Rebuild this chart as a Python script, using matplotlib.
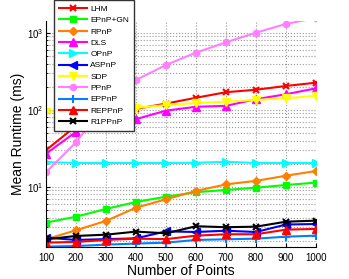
import matplotlib
matplotlib.use("Agg")
import matplotlib.pyplot as plt
from matplotlib.ticker import LogLocator, FixedLocator, NullFormatter

plt.rcParams['font.family'] = ['Liberation Sans', 'DejaVu Sans']
plt.rcParams['mathtext.fontset'] = 'custom'
plt.rcParams['mathtext.rm'] = 'Liberation Sans'

n_points = [100, 200, 300, 400, 500, 600, 700, 800, 900, 1000]

lhm = [30, 62, 82, 103, 121, 144, 170, 183, 205, 226]
epnp_gn = [3.44, 4.11, 5.18, 6.38, 7.48, 8.54, 9.14, 9.79, 10.6, 11.4]
rpnp = [2.09, 2.74, 3.62, 5.38, 6.92, 8.87, 10.8, 12.0, 14.0, 16.1]
dls = [27, 52, 65, 76, 98, 110, 113, 138, 160, 191]
opnp = [21.0, 20.5, 20.5, 20.5, 20.5, 20.6, 21.2, 20.5, 20.5, 20.4]
aspnp = [2.20, 2.05, 2.10, 2.15, 2.65, 2.60, 2.70, 2.60, 3.25, 3.30]
sdp = [95, 97, 100, 106, 116, 123, 128, 135, 142, 152]
ppnp = [15.5, 38, 120, 245, 384, 555, 757, 1009, 1309, 1570]
eppnp = [1.68, 1.71, 1.78, 1.84, 1.89, 2.05, 2.09, 2.13, 2.26, 2.33]
reppnp = [1.89, 1.93, 2.05, 2.13, 2.10, 2.33, 2.43, 2.43, 2.79, 2.85]
r1ppnp = [2.09, 2.31, 2.40, 2.63, 2.50, 3.09, 3.00, 3.05, 3.54, 3.65]

labels = ['LHM', 'EPnP+GN', 'RPnP', 'DLS', 'OPnP', 'ASPnP', 'SDP', 'PPnP',
          'EPPnP', 'REPPnP', 'R1PPnP']
series = [lhm, epnp_gn, rpnp, dls, opnp, aspnp, sdp, ppnp, eppnp, reppnp, r1ppnp]
colors = ['#ff0000', '#00ff00', '#ff8000', '#ff00ff', '#00ffff', '#0000ff',
          '#ffff00', '#ff80ff', '#0080ff', '#ff0000', '#000000']
markers = ['x', 's', 'D', '^', '>', '<', 'v', 'o', '+', '^', 'x']
msizes = [5, 4.5, 4, 6, 6, 6, 6, 4.5, 6, 6, 5]

fig = plt.figure(figsize=(3.49, 2.79), dpi=100)
ax = fig.add_axes([46/349, 1-247/279, 270/349, 226/279])

for y, lab, c, m, ms in zip(series, labels, colors, markers, msizes):
    ax.plot(n_points, y, color=c, marker=m, markersize=ms, linewidth=1.5,
            markeredgewidth=1.5 if m in ('x', '+') else 1.0, label=lab,
            markerfacecolor=c, markeredgecolor=c, clip_on=True)

ax.set_yscale('log')
ax.set_xlim(100, 1000)
ax.set_ylim(1.66, 1430)
ax.set_xticks(n_points)
ax.yaxis.set_major_locator(FixedLocator([10, 100, 1000]))
ax.yaxis.set_minor_locator(LogLocator(base=10, subs=range(2, 10)))
ax.yaxis.set_minor_formatter(NullFormatter())

ax.grid(True, which='major', linestyle=':', color='#999999', linewidth=0.8)
ax.grid(True, which='minor', axis='y', linestyle=':', color='#999999', linewidth=0.8)
ax.set_axisbelow(True)

for s in ['top', 'right']:
    ax.spines[s].set_visible(False)
ax.tick_params(which='both', direction='in', labelsize=7, length=3)
ax.tick_params(which='minor', length=1.5)
ax.tick_params(axis='x', pad=4)
ax.tick_params(axis='y', pad=2)

ax.set_xlabel('Number of Points', fontsize=10, labelpad=1)
ax.set_ylabel('Mean Runtime (ms)', fontsize=10, labelpad=1)

leg = ax.legend(loc='upper left', bbox_to_anchor=(54/349, 1.0),
                bbox_transform=fig.transFigure, fontsize=6, frameon=True,
                fancybox=False, borderaxespad=0, borderpad=0.6,
                labelspacing=0.42, handlelength=3.4, handletextpad=0.35,
                framealpha=1)
leg.get_frame().set_edgecolor('#333333')
leg.get_frame().set_linewidth(1.0)

fig.savefig('out.png', dpi=100)
